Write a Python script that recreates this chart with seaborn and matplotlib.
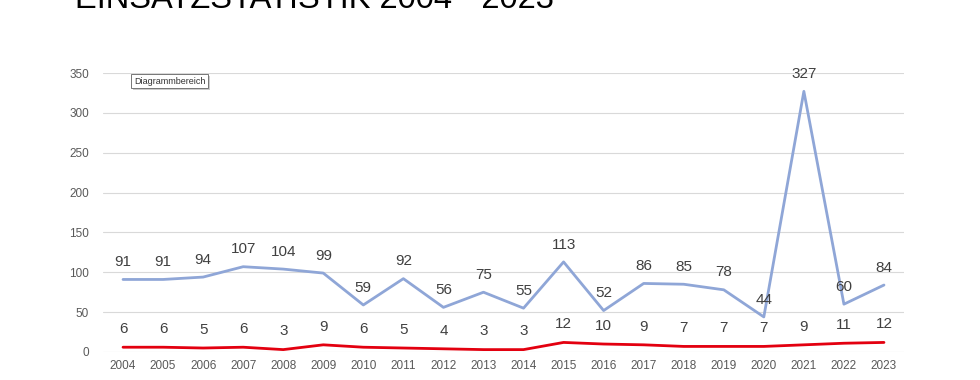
import matplotlib
matplotlib.use('Agg')
import matplotlib.pyplot as plt
import matplotlib.patheffects as pe
import pandas as pd
import seaborn as sns

# Daten
jahre = ['2004', '2005', '2006', '2007', '2008', '2009', '2010', '2011', '2012', '2013',
         '2014', '2015', '2016', '2017', '2018', '2019', '2020', '2021', '2022', '2023']
einsaetze_blau = [91, 91, 94, 107, 104, 99, 59, 92, 56, 75,
                  55, 113, 52, 86, 85, 78, 44, 327, 60, 84]
einsaetze_rot = [6, 6, 5, 6, 3, 9, 6, 5, 4, 3,
                 3, 12, 10, 9, 7, 7, 7, 9, 11, 12]
y_ticks = [0, 50, 100, 150, 200, 250, 300, 350]

df = pd.DataFrame({'jahr': jahre, 'blau': einsaetze_blau, 'rot': einsaetze_rot})
df['pos'] = range(len(df))

sns.set_style('white')
plt.rcParams['font.family'] = ['Liberation Sans', 'DejaVu Sans']

fig = plt.figure(figsize=(9.8, 3.8), dpi=100)
ax = fig.add_axes([103 / 980, 28 / 380, 801 / 980, 279 / 380])

sns.lineplot(data=df, x='pos', y='blau', ax=ax, color='#8FA6D7', linewidth=2)
sns.lineplot(data=df, x='pos', y='rot', ax=ax, color='#E3000F', linewidth=2)

# Datenbeschriftungen
for _, r in df.iterrows():
    ax.annotate(str(r['blau']), (r['pos'], r['blau']), xytext=(0, 7.5),
                textcoords='offset points', ha='center', va='bottom',
                fontsize=11, color='#404040')
    ax.annotate(str(r['rot']), (r['pos'], r['rot']), xytext=(0, 8),
                textcoords='offset points', ha='center', va='bottom',
                fontsize=11, color='#404040')

ax.set_xlim(-0.5, len(jahre) - 0.5)
ax.set_ylim(0, 350)
ax.set_xticks(df['pos'])
ax.set_xticklabels(jahre)
ax.set_yticks(y_ticks)
ax.grid(axis='y', color='#D9D9D9', linewidth=0.8)
ax.set_axisbelow(True)
ax.tick_params(axis='both', length=0, labelsize=8.5, labelcolor='#595959')
ax.tick_params(axis='y', pad=10)
ax.tick_params(axis='x', pad=6)
ax.set_xlabel('')
ax.set_ylabel('')
for s in ax.spines.values():
    s.set_visible(False)

# Titel (oben abgeschnitten wie im Original)
fig.text(75 / 980, 1 - 8 / 380, 'EINSATZSTATISTIK 2004 - 2023', fontsize=23.5,
         color='black', ha='left', va='baseline')

# Tooltip "Diagrammbereich"
fig.text(134 / 980, 1 - 81 / 380, 'Diagrammbereich', fontsize=6.5, color='#333333',
         ha='left', va='center',
         bbox=dict(boxstyle='square,pad=0.3', facecolor='white', edgecolor='#767676',
                   linewidth=0.7,
                   path_effects=[pe.SimplePatchShadow(offset=(1.5, -1.5), shadow_rgbFace='#AAAAAA', alpha=0.6),
                                 pe.Normal()]))

fig.savefig('out.png', dpi=100)
